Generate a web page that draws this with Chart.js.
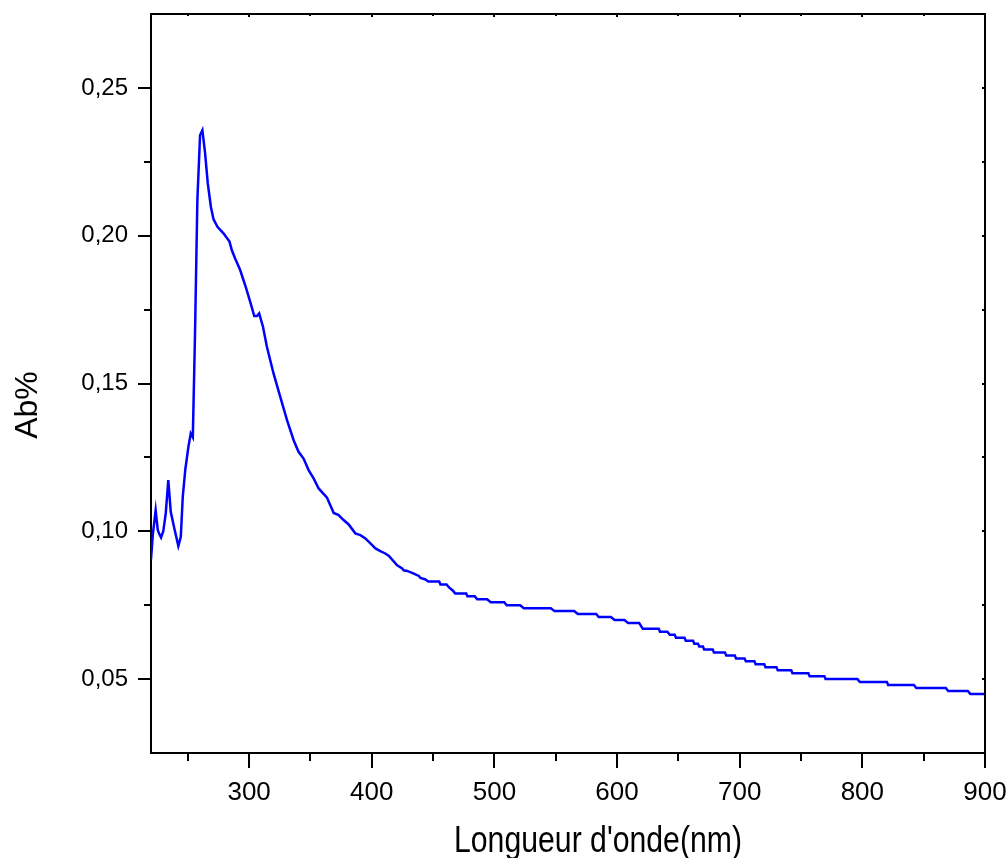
<!DOCTYPE html>
<html>
<head>
<meta charset="utf-8">
<script src="https://cdn.jsdelivr.net/npm/chart.js@4.4.1/dist/chart.umd.min.js"></script>
<style>
  html, body { margin: 0; padding: 0; background: #fff; }
  #wrap { width: 1007px; height: 858px; position: relative; }
</style>
</head>
<body>
<div id="wrap"><canvas id="spectrum"></canvas></div>
<script>
// -------------------------
// Data
// -------------------------
const WAVELENGTH = [
  220, 221.5, 223.8, 225.5, 226.5, 228.2, 230, 232, 234.1, 236.1, 239, 242.3, 244.3, 245.9, 248,
  250.5, 252.4, 254.1, 255.9, 257.8, 260, 261.9, 264.1, 266.3, 268.8, 271, 274.2, 279.1, 284, 286,
  288.6, 292.7, 297.6, 300.9, 304.2, 306.4, 308.2, 311.3, 314.5, 319.9, 325.4, 330.9, 336.3, 340.3,
  344.4, 348.5, 352.6, 356.7, 363.5, 366, 369, 373, 377, 381, 386.6, 390.7, 394.8, 398.9, 403, 407,
  411, 414, 420.7, 424.8, 426, 428.9, 434.3, 438.4, 439.7, 443.8,
  446, 455, 456, 461, 463, 466, 468, 477, 478, 484, 486, 494, 497, 508, 510, 521, 524, 546,
  549, 565, 568, 583, 585, 595, 598, 606, 609, 618, 619.5, 621, 634, 635, 641, 643, 647,
  648, 655, 656, 662, 663, 666, 667, 670, 671, 678, 679, 688, 689, 696, 697, 704, 705, 712,
  713, 720, 721, 730, 731, 742, 743, 756, 757, 769, 770, 796, 798, 820, 821, 842, 844, 868,
  870, 886, 888, 900
];
const ABSORBANCE = [
  0.0905, 0.099, 0.1071, 0.1005, 0.0993, 0.0979, 0.100, 0.106, 0.1173, 0.1066, 0.101, 0.0950, 0.0981, 0.1117, 0.121,
  0.1286, 0.1331, 0.1318, 0.167, 0.212, 0.234, 0.2357, 0.2279, 0.2177, 0.2098, 0.2055, 0.2030, 0.2008, 0.1980, 0.195,
  0.1923, 0.1884, 0.1822, 0.1776, 0.1728, 0.1728, 0.1737, 0.1692, 0.1624, 0.1534, 0.1455, 0.1376, 0.1308, 0.1269,
  0.1246, 0.1207, 0.1179, 0.1145, 0.1114, 0.109, 0.1062, 0.1055, 0.1038, 0.1024, 0.0993, 0.0987, 0.0976, 0.0959, 0.0942, 0.0933,
  0.0925, 0.0917, 0.0885, 0.0874, 0.0868, 0.0866, 0.0857, 0.0849, 0.0842, 0.0837,
  0.083, 0.083, 0.082, 0.082, 0.081, 0.080, 0.079, 0.079, 0.078, 0.078, 0.077, 0.077, 0.076, 0.076, 0.075, 0.075, 0.074, 0.074,
  0.073, 0.073, 0.072, 0.072, 0.071, 0.071, 0.070, 0.070, 0.069, 0.069, 0.068, 0.067, 0.067, 0.066, 0.066, 0.065, 0.065,
  0.064, 0.064, 0.063, 0.063, 0.062, 0.062, 0.061, 0.061, 0.060, 0.060, 0.059, 0.059, 0.058, 0.058, 0.057, 0.057, 0.056, 0.056,
  0.055, 0.055, 0.054, 0.054, 0.053, 0.053, 0.052, 0.052, 0.051, 0.051, 0.050, 0.050, 0.049, 0.049, 0.048, 0.048, 0.047, 0.047,
  0.046, 0.046, 0.045, 0.045
];

const X_TICKS = [300, 400, 500, 600, 700, 800, 900];
const X_MINOR = [250, 350, 450, 550, 650, 750, 850];
const Y_TICKS = [0.05, 0.10, 0.15, 0.20, 0.25];
const Y_MINOR = [0.075, 0.125, 0.175, 0.225];

const X_TITLE = "Longueur d'onde(nm)";
const Y_TITLE = "Ab%";

// -------------------------
// Frame, tick marks, axis titles
// -------------------------
const frameTicks = {
  id: 'frameTicks',
  afterDraw(chart) {
    const { ctx, chartArea: a, scales: { x, y } } = chart;
    ctx.save();
    ctx.strokeStyle = '#000';
    ctx.lineWidth = 2;

    ctx.beginPath();
    ctx.moveTo(a.left - 1, a.top);
    ctx.lineTo(a.right, a.top);
    ctx.lineTo(a.right, a.bottom + 1);
    ctx.stroke();

    ctx.beginPath();
    const seg = (x1, y1, x2, y2) => { ctx.moveTo(x1, y1); ctx.lineTo(x2, y2); };
    X_TICKS.forEach(v => {
      const px = Math.round(x.getPixelForValue(v));
      seg(px, a.bottom, px, a.bottom + 15);
      seg(px, a.top, px, a.top + 3);
    });
    X_MINOR.forEach(v => {
      const px = Math.round(x.getPixelForValue(v));
      seg(px, a.bottom, px, a.bottom + 8);
      seg(px, a.top, px, a.top + 2);
    });
    Y_TICKS.forEach(v => {
      const py = Math.round(y.getPixelForValue(v));
      seg(a.left - 13, py, a.left, py);
      seg(a.right - 3, py, a.right, py);
    });
    Y_MINOR.forEach(v => {
      const py = Math.round(y.getPixelForValue(v));
      seg(a.left - 7, py, a.left, py);
      seg(a.right - 3, py, a.right, py);
    });
    ctx.stroke();

    // axis titles
    ctx.fillStyle = '#000';
    ctx.textAlign = 'center';
    ctx.textBaseline = 'alphabetic';
    ctx.font = '37px "Liberation Sans", Arial, sans-serif';
    ctx.fillText(X_TITLE, (a.left + a.right) / 2 + 30, 852, 288);

    ctx.translate(37, 405);
    ctx.rotate(-Math.PI / 2);
    ctx.font = '32px "Liberation Sans", Arial, sans-serif';
    ctx.fillText(Y_TITLE, 0, 0);
    ctx.restore();
  }
};

// drop the label overhang padding so the plot box sits where the figure has it
function noOverhang(s) {
  s.paddingTop = 0;
  s.paddingBottom = 0;
  s.paddingLeft = 0;
  s.paddingRight = 0;
}

// -------------------------
// Chart
// -------------------------
const points = WAVELENGTH.map((w, i) => ({ x: w, y: ABSORBANCE[i] }));

new Chart(document.getElementById('spectrum'), {
  type: 'line',
  data: {
    datasets: [{
      data: points,
      borderColor: '#0000ff',
      borderWidth: 2.5,
      pointRadius: 0,
      tension: 0,
      fill: false
    }]
  },
  options: {
    responsive: true,
    maintainAspectRatio: false,
    animation: false,
    layout: { padding: { top: 14, right: 22, left: 0, bottom: 0 } },
    plugins: { legend: { display: false }, tooltip: { enabled: false } },
    scales: {
      x: {
        type: 'linear',
        min: 220,
        max: 900,
        afterBuildTicks: s => { s.ticks = X_TICKS.map(v => ({ value: v })); },
        afterFit: s => { s.height = 105; noOverhang(s); },
        grid: { display: false, drawTicks: false },
        border: { display: true, color: '#000', width: 2 },
        ticks: {
          color: '#000',
          padding: 24,
          maxRotation: 0,
          font: { family: '"Liberation Sans", Arial, sans-serif', size: 26 }
        }
      },
      y: {
        type: 'linear',
        min: 0.025,
        max: 0.275,
        afterBuildTicks: s => { s.ticks = Y_TICKS.map(v => ({ value: v })); },
        afterFit: s => { s.width = 151; noOverhang(s); },
        grid: { display: false, drawTicks: false },
        border: { display: true, color: '#000', width: 2 },
        ticks: {
          color: '#000',
          padding: 23,
          font: { family: '"Liberation Sans", Arial, sans-serif', size: 24 },
          callback: v => v.toFixed(2).replace('.', ',')
        }
      }
    }
  },
  plugins: [frameTicks]
});
</script>
</body>
</html>
